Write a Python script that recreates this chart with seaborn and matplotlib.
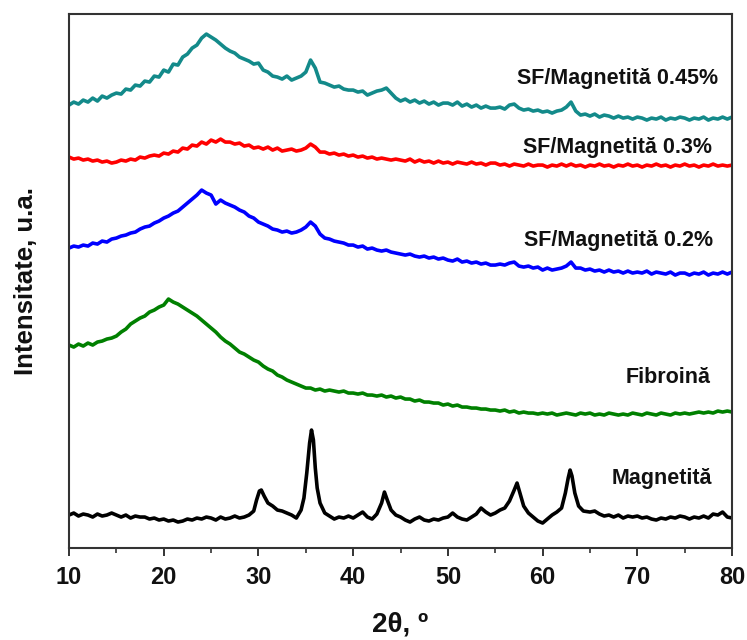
import numpy as np
import pandas as pd
import matplotlib
matplotlib.use("Agg")
import matplotlib.pyplot as plt
import seaborn as sns
from matplotlib.ticker import MultipleLocator

sns.set_style("ticks")
plt.rcParams['font.family'] = ['Liberation Sans', 'DejaVu Sans']

# common 2-theta grid (0.5 deg) for the four amorphous-looking traces
two_theta = [10 + 0.5 * i for i in range(141)]

sf_045 = [443, 446, 444, 448, 446, 450, 447, 452, 450, 453, 455, 454, 459, 458, 463, 462, 467, 466, 472, 471,
          478, 476, 484, 483, 491, 494, 500, 503, 510, 514, 511, 508, 504, 500, 497, 495, 491, 489, 487, 484,
          485, 478, 476, 472, 471, 469, 472, 468, 470, 472, 476, 488, 480, 466, 465, 463, 461, 462, 459, 458,
          458, 456, 457, 453, 455, 457, 458, 460, 455, 450, 447, 449, 446, 448, 445, 447, 444, 446, 443, 445,
          445, 443, 446, 442, 444, 441, 443, 440, 442, 440, 440, 441, 439, 443, 444, 440, 438, 439, 437, 438,
          436, 437, 435, 437, 438, 441, 446, 437, 433, 434, 432, 434, 431, 433, 432, 430, 432, 430, 431, 429,
          431, 430, 428, 430, 429, 431, 428, 430, 429, 431, 430, 428, 430, 429, 431, 428, 430, 429, 431, 429, 431]

sf_03 = [391, 389, 390, 388, 389, 387, 388, 386, 387, 385, 386, 388, 387, 389, 388, 391, 390, 392, 393, 392,
         395, 394, 397, 396, 400, 399, 403, 402, 406, 404, 408, 406, 409, 406, 406, 404, 405, 402, 403, 400,
         401, 399, 401, 398, 400, 397, 398, 399, 397, 398, 400, 404, 401, 396, 396, 394, 395, 393, 394, 392,
         393, 391, 392, 390, 391, 389, 390, 389, 388, 389, 388, 387, 389, 386, 388, 386, 387, 385, 387, 385,
         386, 384, 386, 385, 384, 386, 384, 385, 383, 385, 385, 383, 384, 382, 384, 383, 382, 384, 382, 383,
         383, 381, 383, 382, 384, 382, 384, 382, 383, 381, 383, 382, 384, 382, 383, 381, 383, 382, 384, 382,
         383, 381, 383, 382, 384, 382, 383, 381, 383, 382, 384, 382, 383, 381, 383, 382, 384, 382, 383, 382, 383]

sf_02 = [300, 302, 301, 303, 302, 305, 304, 307, 306, 309, 310, 312, 313, 315, 316, 319, 321, 322, 325, 327,
         330, 332, 335, 337, 341, 345, 349, 353, 358, 355, 353, 344, 348, 345, 343, 341, 338, 336, 332, 330,
         326, 324, 322, 319, 318, 316, 317, 315, 316, 318, 321, 326, 322, 314, 310, 309, 307, 306, 305, 303,
         303, 301, 302, 299, 300, 298, 297, 298, 296, 295, 294, 293, 294, 292, 291, 292, 290, 291, 289, 290,
         288, 287, 289, 286, 287, 285, 286, 284, 285, 283, 283, 284, 283, 285, 286, 282, 281, 282, 280, 281,
         278, 280, 278, 279, 280, 282, 286, 280, 280, 278, 279, 277, 278, 276, 278, 276, 277, 275, 277, 275,
         276, 275, 277, 274, 276, 275, 274, 276, 273, 275, 275, 273, 275, 274, 276, 273, 275, 274, 276, 274, 276]

fibroina = [203, 201, 204, 202, 205, 203, 206, 207, 209, 210, 212, 216, 219, 224, 227, 230, 232, 236, 238, 241,
            243, 249, 246, 244, 241, 238, 235, 232, 228, 224, 220, 216, 211, 207, 204, 200, 196, 194, 191, 188,
            186, 182, 179, 177, 173, 171, 168, 166, 164, 162, 160, 160, 158, 159, 157, 158, 157, 156, 157, 155,
            155, 154, 155, 153, 153, 152, 153, 151, 152, 150, 151, 149, 149, 147, 148, 146, 146, 145, 145, 143,
            144, 142, 143, 141, 141, 140, 140, 139, 139, 138, 138, 137, 138, 136, 137, 135, 136, 135, 135, 134,
            135, 134, 135, 133, 134, 135, 134, 133, 135, 134, 135, 133, 134, 133, 135, 134, 133, 134, 133, 135,
            134, 133, 135, 134, 133, 135, 134, 133, 135, 134, 135, 134, 135, 136, 135, 136, 135, 137, 136, 137, 136]

# magnetite: finer sampling around the reflections
mag_theta = [10, 10.5, 11, 11.5, 12, 12.5, 13, 13.5, 14, 14.5, 15, 15.5, 16, 16.5, 17, 17.5, 18, 18.5, 19, 19.5,
             20, 20.5, 21, 21.5, 22, 22.5, 23, 23.5, 24, 24.5, 25, 25.5, 26, 26.5, 27, 27.5, 28, 28.5, 29, 29.5,
             29.8, 30.1, 30.3, 30.6, 31, 31.5, 32, 32.5, 33, 33.5, 34, 34.5, 34.8, 35.1, 35.4, 35.6, 35.8, 36.0,
             36.2, 36.5, 37, 37.5, 38, 38.5, 39, 39.5, 40, 40.5, 41, 41.5, 42, 42.5, 43, 43.3, 43.6, 44, 44.5, 45,
             45.5, 46, 46.5, 47, 47.5, 48, 48.5, 49, 49.5, 50, 50.5, 51, 51.5, 52, 52.5, 53, 53.5, 54, 54.5, 55,
             55.5, 56, 56.5, 57, 57.3, 57.6, 58, 58.5, 59, 59.5, 60, 60.5, 61, 61.5, 62, 62.4, 62.7, 62.9, 63.1,
             63.4, 63.8, 64.3, 65, 65.5, 66, 66.5, 67, 67.5, 68, 68.5, 69, 69.5, 70, 70.5, 71, 71.5, 72, 72.5, 73,
             73.5, 74, 74.5, 75, 75.5, 76, 76.5, 77, 77.5, 78, 78.5, 79, 79.5, 80]
magnetita = [33, 35, 32, 34, 33, 31, 34, 32, 33, 35, 33, 31, 33, 30, 32, 31, 31, 29, 30, 28,
             29, 27, 28, 26, 27, 29, 28, 30, 29, 31, 30, 28, 31, 29, 30, 32, 30, 31, 33, 37,
             48, 57, 58, 52, 45, 42, 38, 37, 35, 33, 30, 38, 50, 75, 105, 118, 108, 80,
             60, 45, 35, 32, 29, 31, 30, 32, 30, 33, 36, 31, 29, 34, 45, 56, 48, 38, 33, 31,
             28, 26, 29, 31, 28, 27, 29, 28, 30, 31, 35, 31, 29, 28, 31, 34, 40, 36, 33, 35,
             38, 40, 47, 58, 65, 55, 42, 35, 31, 27, 25, 29, 33, 36, 40, 55, 70, 78, 72,
             55, 42, 37, 36, 37, 34, 32, 33, 31, 33, 30, 32, 31, 32, 30, 31, 29, 28, 30, 29,
             31, 30, 32, 31, 29, 31, 30, 32, 30, 34, 33, 36, 31, 30]

labels = ["SF/Magnetită 0.45%", "SF/Magnetită 0.3%", "SF/Magnetită 0.2%", "Fibroină", "Magnetită"]
colors = ["#138a8a", "#ff0000", "#0000ff", "#008000", "#000000"]

fig = plt.figure(figsize=(7.47, 6.4), dpi=100)
ax = fig.add_axes([0.0924, 0.1437, 0.8876, 0.8343])

series = [(two_theta, sf_045), (two_theta, sf_03), (two_theta, sf_02), (two_theta, fibroina), (mag_theta, magnetita)]
for (xs, ys), lab, col in zip(series, labels, colors):
    assert len(xs) == len(ys), lab
    df = pd.DataFrame({"x": xs, "y": ys})
    sns.lineplot(data=df, x="x", y="y", ax=ax, color=col, linewidth=2.6, sort=False, estimator=None)

ax.set_xlim(10, 80)
ax.set_ylim(0, 534)
ax.set_yticks([])
ax.xaxis.set_major_locator(MultipleLocator(10))
ax.xaxis.set_minor_locator(MultipleLocator(5))
ax.tick_params(axis='x', which='major', direction='out', length=6, width=1.4, colors='#333333', pad=7)
ax.tick_params(axis='x', which='minor', direction='out', length=3.6, width=1.2, colors='#333333')
for lbl in ax.get_xticklabels():
    lbl.set_fontweight('bold')
    lbl.set_fontsize(17)
    lbl.set_color('#111111')
for s in ax.spines.values():
    s.set_linewidth(1.5)
    s.set_color('#333333')

ax.set_xlabel("2θ, º", fontsize=20, fontweight='bold', labelpad=16, color='#111111')
ax.set_ylabel("Intensitate, u.a.", fontsize=18.5, fontweight='bold', labelpad=22, color='#111111')

txt_pos = [(78.5, 470), (77.9, 401), (78.0, 308), (77.7, 171), (77.9, 70)]
for (tx, ty), lab in zip(txt_pos, labels):
    ax.text(tx, ty, lab, ha='right', va='center', fontsize=15.5, fontweight='bold', color='#111111')

fig.savefig("out.png", dpi=100)
